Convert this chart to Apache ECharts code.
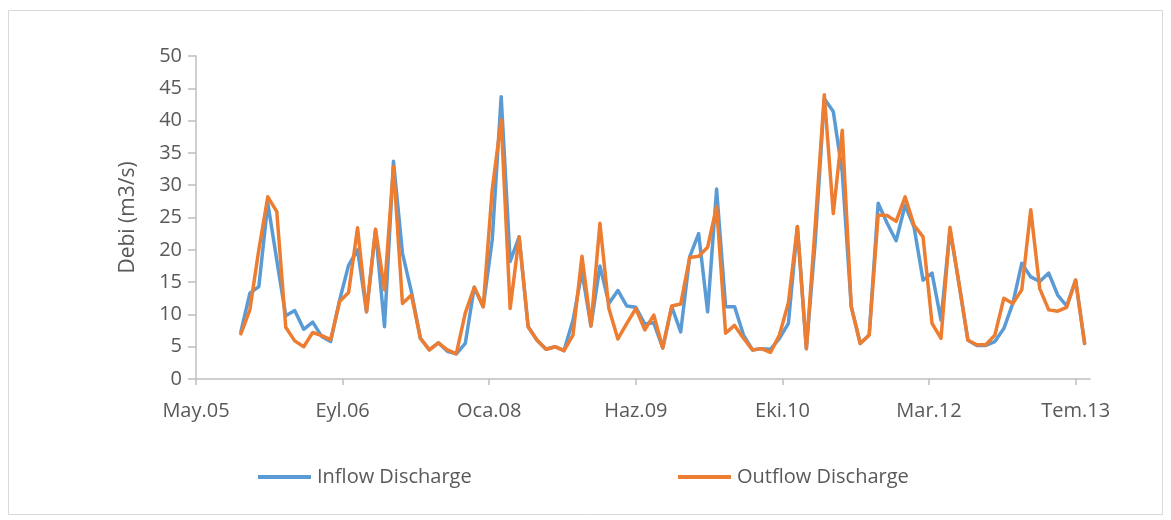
<!DOCTYPE html>
<html>
<head>
<meta charset="utf-8">
<script src="https://cdn.jsdelivr.net/npm/echarts@6/dist/echarts.min.js"></script>
<style>
  html, body { margin: 0; padding: 0; background: #fff; }
  #chart { width: 1171px; height: 520px; }
</style>
</head>
<body>
<div id="chart"></div>
<script>
// months counted from May 2005 (0); first value is Oct 2005
const firstMonth = 5;
const tickLabels = ['May.05', 'Eyl.06', 'Oca.08', 'Haz.09', 'Eki.10', 'Mar.12', 'Tem.13'];
const seriesNames = ['Inflow Discharge', 'Outflow Discharge'];

const inflow = [
  7.3, 13.3, 14.3, 27.2, 18.4, 9.8, 10.6, 7.7, 8.8, 6.6,
  5.8, 12.2, 17.6, 20.0, 10.4, 23.0, 8.1, 33.7, 19.5, 13.5,
  6.3, 4.5, 5.6, 4.3, 3.9, 5.5, 14.2, 11.2, 21.5, 43.7,
  18.2, 22.0, 8.1, 6.0, 4.6, 5.0, 4.4, 9.1, 16.6, 8.2,
  17.5, 11.7, 13.7, 11.3, 11.1, 8.5, 8.7, 4.8, 11.2, 7.3,
  18.9, 22.5, 10.4, 29.4, 11.2, 11.2, 6.8, 4.5, 4.7, 4.6,
  6.3, 8.6, 23.6, 4.7, 21.5, 43.4, 41.4, 32.0, 11.2, 5.5,
  6.8, 27.2, 24.1, 21.4, 26.9, 23.5, 15.3, 16.4, 9.1, 23.1,
  14.8, 6.0, 5.2, 5.2, 5.8, 7.8, 11.7, 17.9, 15.8, 15.1,
  16.4, 13.0, 11.3, 15.3, 5.5
];

const outflow = [
  7.0, 10.7, 20.0, 28.2, 25.9, 8.0, 5.9, 5.0, 7.2, 6.7,
  6.1, 12.0, 13.4, 23.4, 10.4, 23.2, 13.8, 32.9, 11.7, 13.0,
  6.3, 4.5, 5.6, 4.5, 3.9, 10.2, 14.2, 11.2, 29.3, 40.1,
  10.9, 22.0, 8.1, 6.0, 4.6, 5.0, 4.4, 6.8, 19.0, 8.2,
  24.1, 10.9, 6.2, 8.6, 10.9, 7.6, 9.9, 4.8, 11.3, 11.6,
  18.8, 19.0, 20.4, 26.7, 7.1, 8.3, 6.3, 4.5, 4.7, 4.1,
  6.8, 11.8, 23.6, 4.7, 24.0, 44.0, 25.6, 38.5, 11.2, 5.5,
  6.8, 25.4, 25.3, 24.4, 28.2, 23.8, 22.0, 8.6, 6.3, 23.5,
  14.8, 6.0, 5.3, 5.3, 6.8, 12.5, 11.7, 13.8, 26.2, 14.0,
  10.7, 10.5, 11.1, 15.3, 5.5
];

const colors = ['#5b9bd5', '#ed7d31'];
const font = '"Open Sans", "Noto Sans", sans-serif';
const textColor = '#595959';
const axisColor = '#bfbfbf';

// tick positions: Excel spreads 98 months over 6 equal steps
const tickStep = 98 / 6;
const tickValues = tickLabels.map((_, i) => i * tickStep);

const toPairs = (arr) => arr.map((v, i) => [firstMonth + i, v]);

let chart = echarts.init(document.getElementById('chart'));
chart.setOption({
  animation: false,
  backgroundColor: '#fff',
  graphic: [{
    type: 'rect',
    shape: { x: 8.5, y: 10.5, width: 1154, height: 504 },
    style: { fill: 'none', stroke: '#d9d9d9', lineWidth: 1 },
    silent: true
  }],
  grid: {
    left: 196,
    right: 81,
    top: 56,
    bottom: 141
  },
  legend: [
    {
      data: [seriesNames[0]],
      left: 253,
      top: 462,
      icon: 'rect',
      itemWidth: 53,
      itemHeight: 4,
      itemGap: 0,
      textStyle: { fontFamily: font, fontSize: 20, color: textColor, padding: [0, 0, 0, 1] }
    },
    {
      data: [seriesNames[1]],
      left: 673,
      top: 462,
      icon: 'rect',
      itemWidth: 53,
      itemHeight: 4,
      itemGap: 0,
      textStyle: { fontFamily: font, fontSize: 20, color: textColor, padding: [0, 0, 0, 1] }
    }
  ],
  xAxis: {
    type: 'value',
    min: 0,
    max: 99.6,
    splitLine: { show: false },
    axisLine: { lineStyle: { color: axisColor, width: 1.5 } },
    axisTick: {
      customValues: tickValues,
      length: 6,
      lineStyle: { color: axisColor, width: 1.5 }
    },
    axisLabel: {
      customValues: tickValues,
      margin: 22,
      fontFamily: font,
      fontSize: 20,
      color: textColor,
      formatter: (v) => tickLabels[Math.round(v / tickStep)] || ''
    }
  },
  yAxis: {
    type: 'value',
    min: 0,
    max: 50,
    interval: 5,
    name: 'Debi (m3/s)',
    nameLocation: 'middle',
    nameGap: 57,
    nameTextStyle: { fontFamily: font, fontSize: 21, color: textColor },
    splitLine: { show: false },
    axisLine: { show: true, lineStyle: { color: axisColor, width: 1.5 } },
    axisTick: { show: true, length: 8, lineStyle: { color: axisColor, width: 1.5 } },
    axisLabel: {
      margin: 14,
      fontFamily: font,
      fontSize: 20,
      color: textColor
    }
  },
  series: [
    {
      name: seriesNames[0],
      type: 'line',
      data: toPairs(inflow),
      symbol: 'none',
      color: colors[0],
      lineStyle: { width: 3.5, color: colors[0], join: 'round', cap: 'round' }
    },
    {
      name: seriesNames[1],
      type: 'line',
      data: toPairs(outflow),
      symbol: 'none',
      color: colors[1],
      lineStyle: { width: 3.5, color: colors[1], join: 'round', cap: 'round' }
    }
  ]
});
</script>
</body>
</html>
